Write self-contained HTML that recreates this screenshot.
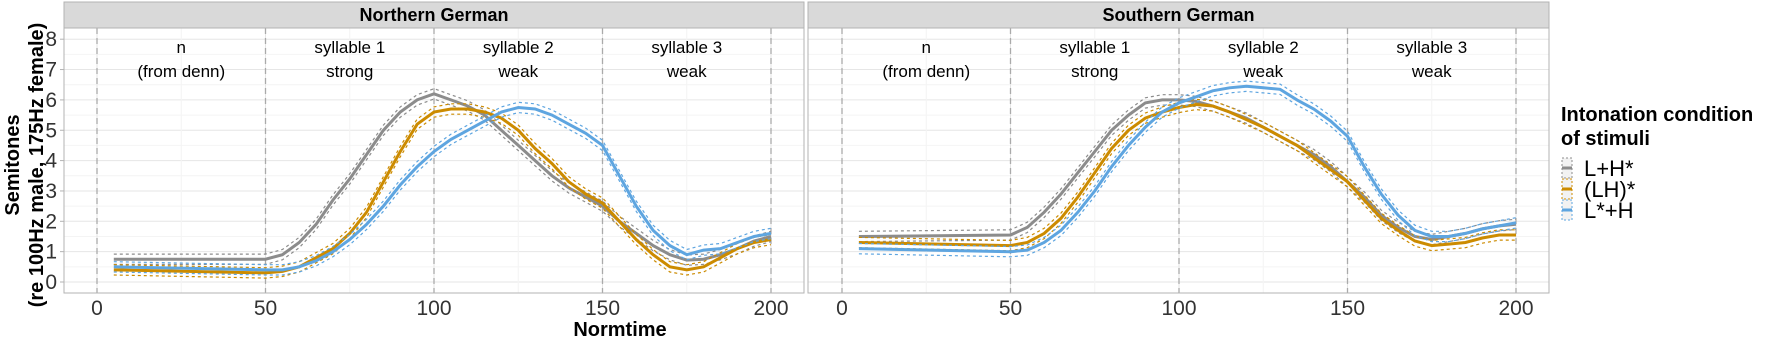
<!DOCTYPE html>
<html><head><meta charset="utf-8"><style>
body{margin:0;background:#fff}
svg text{font-family:"Liberation Sans",Arial,sans-serif}
</style></head><body>
<svg id="s" width="1772" height="339" xmlns="http://www.w3.org/2000/svg"></svg>
<script>
const S=document.getElementById('s');
let h='';
const Y=v=>282-30.35*v;
const panels=[{x0:64,x1:804,ox:97,title:"Northern German",
data:{
g:[[5,.75],[50,.75],[55,.9],[60,1.3],[65,1.9],[70,2.7],[75,3.4],[80,4.2],[85,5.0],[90,5.6],[95,6.0],[100,6.2],[105,6.0],[110,5.8],[115,5.5],[120,5.0],[125,4.5],[130,4.0],[135,3.5],[140,3.1],[145,2.8],[150,2.5],[155,2.0],[160,1.6],[165,1.2],[170,.9],[175,.72],[180,.75],[185,.9],[190,1.1],[195,1.35],[200,1.5]],
o:[[5,.4],[50,.3],[55,.35],[60,.5],[65,.8],[70,1.1],[75,1.6],[80,2.3],[85,3.3],[90,4.3],[95,5.2],[100,5.6],[105,5.7],[110,5.7],[115,5.6],[120,5.4],[125,5.0],[130,4.4],[135,3.9],[140,3.3],[145,2.9],[150,2.6],[155,2.0],[160,1.4],[165,.9],[170,.5],[175,.4],[180,.5],[185,.8],[190,1.1],[195,1.3],[200,1.4]],
b:[[5,.5],[50,.4],[55,.4],[60,.5],[65,.7],[70,1.0],[75,1.4],[80,1.9],[85,2.5],[90,3.2],[95,3.8],[100,4.3],[105,4.7],[110,5.0],[115,5.3],[120,5.6],[125,5.75],[130,5.7],[135,5.5],[140,5.2],[145,4.9],[150,4.5],[155,3.5],[160,2.5],[165,1.7],[170,1.2],[175,.9],[180,1.05],[185,1.1],[190,1.3],[195,1.5],[200,1.6]]}},
{x0:808,x1:1549,ox:842,title:"Southern German",
data:{
g:[[5,1.5],[50,1.55],[55,1.8],[60,2.3],[65,2.9],[70,3.6],[75,4.3],[80,5.0],[85,5.5],[90,5.9],[95,6.0],[100,6.0],[105,5.95],[110,5.8],[115,5.6],[120,5.4],[125,5.1],[130,4.8],[135,4.5],[140,4.2],[145,3.8],[150,3.3],[155,2.8],[160,2.2],[165,1.8],[170,1.5],[175,1.4],[180,1.5],[185,1.6],[190,1.75],[195,1.85],[200,1.9]],
o:[[5,1.3],[50,1.2],[55,1.3],[60,1.6],[65,2.1],[70,2.8],[75,3.6],[80,4.4],[85,5.0],[90,5.4],[95,5.6],[100,5.75],[105,5.85],[110,5.8],[115,5.6],[120,5.35],[125,5.1],[130,4.8],[135,4.5],[140,4.1],[145,3.7],[150,3.3],[155,2.7],[160,2.1],[165,1.7],[170,1.35],[175,1.2],[180,1.25],[185,1.3],[190,1.45],[195,1.55],[200,1.55]],
b:[[5,1.1],[50,1.0],[55,1.05],[60,1.3],[65,1.7],[70,2.3],[75,3.0],[80,3.8],[85,4.5],[90,5.1],[95,5.6],[100,5.9],[105,6.1],[110,6.3],[115,6.4],[120,6.45],[125,6.4],[130,6.35],[135,6.0],[140,5.7],[145,5.3],[150,4.8],[155,3.8],[160,2.9],[165,2.2],[170,1.7],[175,1.5],[180,1.5],[185,1.6],[190,1.75],[195,1.85],[200,1.95]]}}];
const col={g:"#8c8c8c",o:"#cc8b00",b:"#5ea5e0"};
panels.forEach((p,pi)=>{
 const X=v=>p.ox+3.37*v;
 h+=`<rect x="${p.x0}" y="2" width="${p.x1-p.x0}" height="26" fill="#d9d9d9" stroke="#b3b3b3"/>`;
 h+=`<text x="${(p.x0+p.x1)/2}" y="21" font-size="18" font-weight="bold" text-anchor="middle">${p.title}</text>`;
 for(let v=0;v<=8.25;v+=0.5){h+=`<line x1="${p.x0}" x2="${p.x1}" y1="${Y(v)}" y2="${Y(v)}" stroke="${v%1?'#f4f4f4':'#e6e6e6'}" stroke-width="1"/>`;}
 for(let v=0;v<=200;v+=25){h+=`<line y1="28" y2="293" x1="${X(v)}" x2="${X(v)}" stroke="${v%50?'#f4f4f4':'#e6e6e6'}"/>`;}
 for(let v=0;v<=200;v+=50){h+=`<line y1="28" y2="293" x1="${X(v)}" x2="${X(v)}" stroke="#aaa" stroke-width="1.3" stroke-dasharray="6,4"/>`;
  h+=`<text x="${X(v)}" y="315" font-size="21" fill="#333" text-anchor="middle">${v}</text>`;}
 const ann=[["n","(from denn)"],["syllable 1","strong"],["syllable 2","weak"],["syllable 3","weak"]];
 ann.forEach((a,i)=>{h+=`<text x="${X(25+50*i)}" y="53" font-size="17" text-anchor="middle">${a[0]}</text><text x="${X(25+50*i)}" y="77" font-size="17" text-anchor="middle">${a[1]}</text>`;});
 ['g','o','b'].forEach(k=>{
  const d=p.data[k];
  const pts=off=>d.map(q=>`${X(q[0]).toFixed(1)},${Y(q[1]+off).toFixed(1)}`).join(' ');
  h+=`<polyline points="${pts(0.17)}" fill="none" stroke="${col[k]}" stroke-width="1.2" stroke-dasharray="3,3"/>`;
  h+=`<polyline points="${pts(-0.17)}" fill="none" stroke="${col[k]}" stroke-width="1.2" stroke-dasharray="3,3"/>`;
  h+=`<polyline points="${pts(0)}" fill="none" stroke="${col[k]}" stroke-width="3"/>`;
 });
 h+=`<rect x="${p.x0}" y="28" width="${p.x1-p.x0}" height="265" fill="none" stroke="#b3b3b3"/>`;
 if(pi==0){for(let v=0;v<=8;v++){h+=`<text x="57" y="${Y(v)+7}" font-size="21" fill="#333" text-anchor="end">${v}</text><line x1="60" x2="64" y1="${Y(v)}" y2="${Y(v)}" stroke="#b3b3b3"/>`;}}
});
h+=`<text x="620" y="336" font-size="20" font-weight="bold" text-anchor="middle">Normtime</text>`;
h+=`<text transform="translate(19,165) rotate(-90)" font-size="20" font-weight="bold" text-anchor="middle">Semitones</text>`;
h+=`<text transform="translate(43,165) rotate(-90)" font-size="20" font-weight="bold" text-anchor="middle">(re 100Hz male, 175Hz female)</text>`;
h+=`<text x="1561" y="121" font-size="20" font-weight="bold">Intonation condition</text><text x="1561" y="145" font-size="20" font-weight="bold">of stimuli</text>`;
[['g','L+H*'],['o','(LH)*'],['b','L*+H']].forEach((e,i)=>{const y=168+i*21;
 h+=`<rect x="1562" y="${y-10}" width="10" height="20" fill="#f2f2f2" stroke="${col[e[0]]}" stroke-dasharray="2,2"/><line x1="1562" x2="1572" y1="${y}" y2="${y}" stroke="${col[e[0]]}" stroke-width="3"/>`;
 h+=`<text x="1584" y="${y+8}" font-size="22">${e[1]}</text>`;});
S.innerHTML=h;
</script>
</body></html>
